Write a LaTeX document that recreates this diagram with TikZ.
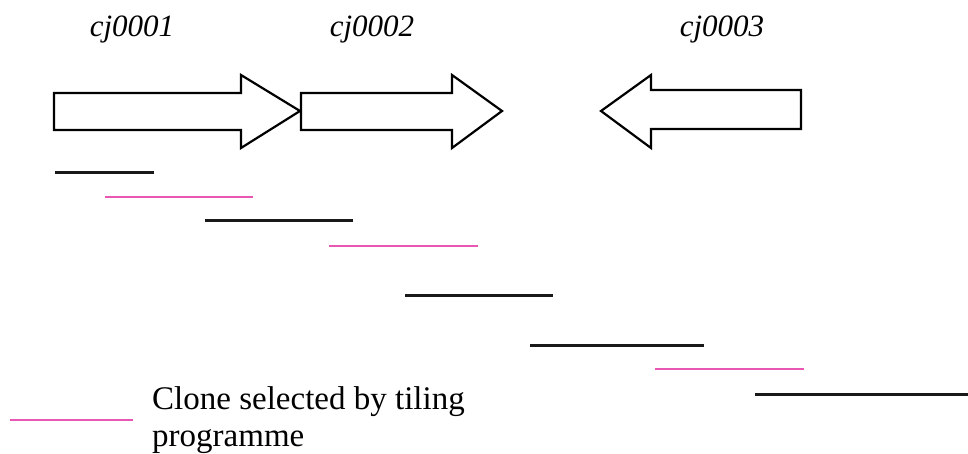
\documentclass[tikz,border=0pt]{standalone}
\usepackage{fontspec}
\setmainfont{Liberation Serif}
\definecolor{clonepink}{RGB}{232,88,178}
\begin{document}
\begin{tikzpicture}[x=1pt,y=-1pt,
  gene/.style={draw=black,line width=2.2pt,line join=miter,fill=white},
  contig/.style={draw=black!90,line width=3pt},
  tiled/.style={draw=clonepink,line width=2.8pt},
  glabel/.style={font=\fontsize{31}{35}\selectfont\itshape,inner sep=0pt,anchor=base}]
\useasboundingbox (0,0) rectangle (968,454);
% labels
\node[glabel] (l1) at (132,37) {cj0001};
\node[glabel] (l2) at (372,37) {cj0002};
\node[glabel] (l3) at (722,37) {cj0003};
% gene arrows
\draw[gene] (54,93) -- (241,93) -- (241,75) -- (300,111) -- (241,148) -- (241,130) -- (54,130) -- cycle;
\draw[gene] (301,93) -- (452,93) -- (452,75) -- (502,111) -- (452,148) -- (452,130) -- (301,130) -- cycle;
\draw[gene] (801,90) -- (651,90) -- (651,75) -- (601,111) -- (651,148) -- (651,129) -- (801,129) -- cycle;
% clones
\coordinate (c1a) at (55,173);  \coordinate (c1b) at (154,173);
\coordinate (c2a) at (105,197); \coordinate (c2b) at (253,197);
\coordinate (c3a) at (205,221); \coordinate (c3b) at (353,221);
\coordinate (c4a) at (329,246); \coordinate (c4b) at (478,246);
\coordinate (c5a) at (405,295); \coordinate (c5b) at (553,295);
\coordinate (c6a) at (530,345); \coordinate (c6b) at (704,345);
\coordinate (c7a) at (655,369); \coordinate (c7b) at (804,369);
\coordinate (c8a) at (755,394); \coordinate (c8b) at (968,394);
\draw[contig] (c1a) -- (c1b);
\draw[tiled]  (c2a) -- (c2b);
\draw[contig] (c3a) -- (c3b);
\draw[tiled]  (c4a) -- (c4b);
\draw[contig] (c5a) -- (c5b);
\draw[contig] (c6a) -- (c6b);
\draw[tiled]  (c7a) -- (c7b);
\draw[contig] (c8a) -- (c8b);
% legend
\coordinate (ka) at (10,420); \coordinate (kb) at (133,420);
\draw[tiled] (ka) -- (kb);
\node[anchor=base west,inner sep=0pt,align=left,font=\fontsize{33}{37}\selectfont] (key) at (152,446) {Clone selected by tiling\\programme};
\end{tikzpicture}
\end{document}
